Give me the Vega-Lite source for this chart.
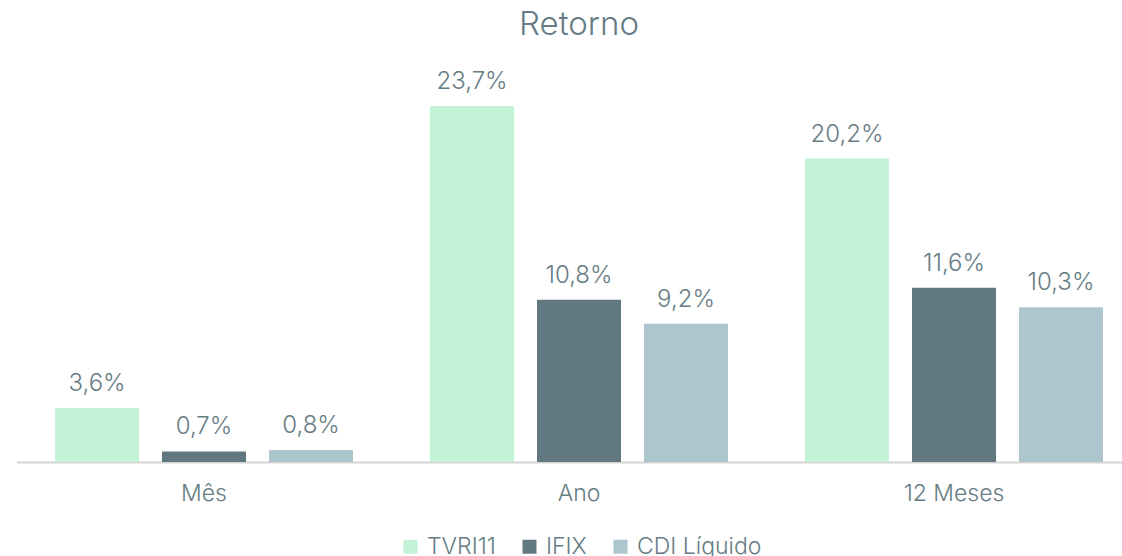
{
  "$schema": "https://vega.github.io/schema/vega-lite/v6.json",
  "autosize": {"type": "none"},
  "padding": {"left": 16.5, "top": 86.5, "right": 0, "bottom": 110},
  "width": 1125,
  "height": 375.5,
  "background": "white",
  "title": {
    "text": "Retorno",
    "fontSize": 33,
    "font": "Inter",
    "fontWeight": 300,
    "color": "#667c84",
    "offset": 28,
    "anchor": "middle"
  },
  "data": {
    "values": [
      {"periodo": "Mês", "serie": "TVRI11", "valor": 0.036},
      {"periodo": "Mês", "serie": "IFIX", "valor": 0.007},
      {"periodo": "Mês", "serie": "CDI Líquido", "valor": 0.008},
      {"periodo": "Ano", "serie": "TVRI11", "valor": 0.237},
      {"periodo": "Ano", "serie": "IFIX", "valor": 0.108},
      {"periodo": "Ano", "serie": "CDI Líquido", "valor": 0.092},
      {"periodo": "12 Meses", "serie": "TVRI11", "valor": 0.202},
      {"periodo": "12 Meses", "serie": "IFIX", "valor": 0.116},
      {"periodo": "12 Meses", "serie": "CDI Líquido", "valor": 0.103}
    ]
  },
  "encoding": {
    "x": {
      "field": "periodo",
      "type": "nominal",
      "sort": ["Mês", "Ano", "12 Meses"],
      "scale": {"paddingInner": 0, "paddingOuter": 0},
      "axis": {
        "title": null,
        "labelAngle": 0,
        "ticks": false,
        "domainColor": "#d4d4d4",
        "domainWidth": 2,
        "labelFont": "Inter",
        "labelFontWeight": 300,
        "labelFontSize": 23,
        "labelColor": "#667c84",
        "labelPadding": 20
      }
    },
    "xOffset": {
      "field": "serie",
      "type": "nominal",
      "sort": ["TVRI11", "IFIX", "CDI Líquido"],
      "scale": {"paddingInner": 0.215, "paddingOuter": 0.36}
    },
    "y": {
      "field": "valor",
      "type": "quantitative",
      "scale": {"domain": [0, 0.25], "nice": false},
      "axis": null
    }
  },
  "layer": [
    {
      "mark": {"type": "bar"},
      "encoding": {
        "color": {
          "field": "serie",
          "type": "nominal",
          "sort": ["TVRI11", "IFIX", "CDI Líquido"],
          "scale": {
            "domain": ["TVRI11", "IFIX", "CDI Líquido"],
            "range": ["#c3f3d6", "#627880", "#adc6cd"]
          },
          "legend": {
            "title": null,
            "orient": "none",
            "legendX": 382.5,
            "legendY": 448.5,
            "direction": "horizontal",
            "symbolType": "square",
            "symbolSize": 196,
            "symbolStrokeWidth": 0,
            "labelFont": "Inter",
            "labelFontWeight": 300,
            "labelFontSize": 23,
            "labelColor": "#667c84",
            "columnPadding": 22,
            "labelOffset": 5
          }
        }
      }
    },
    {
      "mark": {
        "type": "text",
        "baseline": "bottom",
        "dy": -12,
        "font": "Inter",
        "fontWeight": 300,
        "fontSize": 24,
        "color": "#667c84"
      },
      "encoding": {
        "text": {"field": "valor", "type": "quantitative", "format": ".1%"}
      }
    }
  ],
  "config": {
    "view": {"stroke": null},
    "locale": {
      "number": {
        "decimal": ",",
        "thousands": ".",
        "grouping": [3],
        "currency": ["R$", ""]
      }
    }
  }
}
